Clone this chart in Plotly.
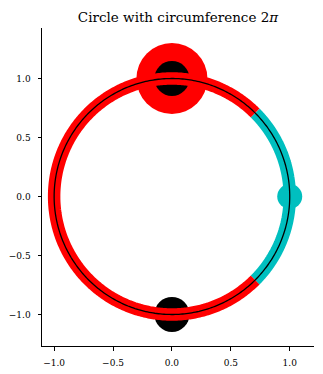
import numpy as np
import plotly.graph_objects as go

# Arc definitions (angles in radians)
red_arc = [np.pi / 4, 7 * np.pi / 4]
cyan_arc = [-np.pi / 4, np.pi / 4]
n_pts = 400

# Marker points
big_red_x = [0.0]
big_red_y = [1.0]
black_x = [0.0, 0.0]
black_y = [1.0, -1.0]
cyan_x = [1.0]
cyan_y = [0.0]

tick_vals = [-1.0, -0.5, 0.0, 0.5, 1.0]
tick_text = ["\u22121.0", "\u22120.5", "0.0", "0.5", "1.0"]

x_range = [-1.103, 1.206]
y_range = [-1.267, 1.428]

def arc(a0, a1):
    t = np.linspace(a0, a1, n_pts)
    return np.cos(t), np.sin(t)

fig = go.Figure()
fig.add_trace(go.Scatter(x=big_red_x, y=big_red_y, mode="markers",
                         marker=dict(size=71, color="#ff0000", line=dict(width=0)),
                         hoverinfo="skip"))
fig.add_trace(go.Scatter(x=black_x, y=black_y, mode="markers",
                         marker=dict(size=35, color="#000000", line=dict(width=0)),
                         hoverinfo="skip"))
rx, ry = arc(*red_arc)
fig.add_trace(go.Scatter(x=rx, y=ry, mode="lines",
                         line=dict(color="#ff0000", width=12.5, simplify=False),
                         hoverinfo="skip"))
cx, cy = arc(*cyan_arc)
fig.add_trace(go.Scatter(x=cx, y=cy, mode="lines",
                         line=dict(color="#00bfbf", width=12.5, simplify=False),
                         hoverinfo="skip"))
fig.add_trace(go.Scatter(x=cyan_x, y=cyan_y, mode="markers",
                         marker=dict(size=25, color="#00bfbf", line=dict(width=0)),
                         hoverinfo="skip"))
fx, fy = arc(0, 2 * np.pi)
fig.add_trace(go.Scatter(x=fx, y=fy, mode="lines",
                         line=dict(color="#000000", width=1.3, simplify=False),
                         hoverinfo="skip"))

axis_common = dict(
    showgrid=False, zeroline=False, showline=True, linecolor="black", linewidth=1,
    ticks="outside", ticklen=3.5, tickwidth=0.8, tickcolor="black",
    tickvals=tick_vals, ticktext=tick_text,
    tickfont=dict(family="DejaVu Serif", size=9, color="black"),
    mirror=False, fixedrange=True, automargin=False,
)
fig.update_xaxes(range=x_range, ticklabelstandoff=5, **axis_common)
fig.update_yaxes(range=y_range, ticklabelstandoff=5, **axis_common)

fig.update_layout(
    width=323, height=374,
    margin=dict(l=42, r=9, t=28, b=28, autoexpand=False),
    plot_bgcolor="white", paper_bgcolor="white",
    showlegend=False,
    title=dict(text="Circle with circumference 2<i>\u03c0</i>",
               font=dict(family="DejaVu Serif", size=13.5, color="black"),
               x=0.5, xref="paper", xanchor="center",
               y=1, yref="paper", yanchor="bottom", pad=dict(b=6)),
)

fig.write_html("out.html")
